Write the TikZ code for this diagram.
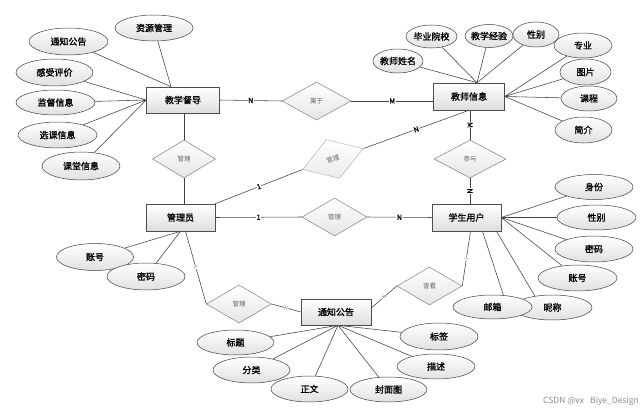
\documentclass[tikz,border=0pt]{standalone}
\usepackage{fontspec}
\setmainfont{Noto Sans CJK SC}[RawFeature={embolden=1.3}]
\newfontfamily\plainfont{Noto Sans CJK SC}
\usetikzlibrary{shapes.geometric,calc,backgrounds}
\newcommand\mbx[1]{\makebox[0pt]{#1}}
\begin{document}
\begin{tikzpicture}[x=1pt,y=-1pt,
  ent/.style={draw=black!70, line width=0.6pt, top color=white, bottom color=black!13, minimum width=70pt, minimum height=26pt, inner sep=0pt, font=\fontsize{9}{10}\selectfont},
  attr/.style={ellipse, draw=black!75, line width=0.5pt, top color=white, bottom color=black!12, inner sep=0pt, minimum width=78pt, minimum height=26pt, font=\fontsize{9}{10}\selectfont},
  rel/.style={diamond, draw=black!50, line width=0.5pt, top color=white, bottom color=black!10, inner sep=0pt, minimum width=65pt, minimum height=38pt, font=\plainfont\fontsize{6.5}{7}\selectfont, text=black!60},
  link/.style={draw=black!75, line width=0.55pt},
  card/.style={fill=white, inner sep=0.5pt, font=\fontsize{7}{8}\selectfont},
  tcard/.style={fill=white, inner sep=0.2pt, font=\plainfont\fontsize{5}{6}\selectfont, text=black!55, sloped},
]
\useasboundingbox (0,0) rectangle (641,415);

% entities
\node[ent, minimum width=73pt] (dd) at (183,100) {教学督导};
\node[ent, minimum width=71pt, minimum height=27pt] (js) at (469,96.5) {教师信息};
\node[ent, minimum width=69pt, minimum height=27pt] (gl) at (180.5,217.5) {管理员};
\node[ent, minimum width=69pt, minimum height=27pt] (xs) at (466.5,217.5) {学生用户};
\node[ent, minimum width=70pt] (tz) at (336,312) {通知公告};

% relationships
\node[rel, minimum width=69pt] (sy) at (316.5,101) {属于};
\node[rel, minimum width=63pt] (m1) at (184,159) {管理};
\node[rel, minimum width=64pt, minimum height=41pt, rotate=19, draw=black!28, bottom color=black!8] (m2) at (333,159) {管理};
\node[rel, minimum width=72pt] (cy) at (470,159) {参与};
\node[rel] (m3) at (334.5,217) {管理};
\node[rel] (m4) at (239,304) {管理};
\node[rel] (ck) at (429.5,286) {查看};

% attributes of 教学督导
\node[attr] (a1) at (154,28) {\mbx{资源管理}};
\node[attr, minimum width=79pt, minimum height=27pt] (a2) at (68.5,41.5) {\mbx{通知公告}};
\node[attr, minimum width=77pt, minimum height=27pt] (a3) at (54.5,72.5) {\mbx{感受评价}};
\node[attr, minimum width=79pt, minimum height=25pt] (a4) at (55.5,102.5) {\mbx{监督信息}};
\node[attr, minimum width=79pt] (a5) at (57.5,135) {\mbx{选课信息}};
\node[attr, minimum height=28pt] (a6) at (81,166) {\mbx{课堂信息}};

% attributes of 教师信息
\node[attr, minimum width=51pt, minimum height=23pt] (b1) at (431.5,36.5) {\mbx{毕业院校}};
\node[attr, minimum width=48pt, minimum height=23pt] (b2) at (489,36) {\mbx{教学经验}};
\node[attr, minimum width=46pt, minimum height=25pt] (b3) at (536,34.5) {\mbx{性别}};
\node[attr, minimum width=50pt, minimum height=24pt] (b0) at (398,61) {\mbx{教师姓名}};
\node[attr, minimum width=58pt, minimum height=25pt] (b4) at (583,45.5) {\mbx{专业}};
\node[attr, minimum width=51pt, minimum height=26pt] (b5) at (585.5,72) {\mbx{图片}};
\node[attr, minimum width=56pt, minimum height=25pt] (b6) at (589,98.5) {\mbx{课程}};
\node[attr, minimum width=57pt, minimum height=26pt] (b7) at (583.5,130) {\mbx{简介}};

% attributes of 学生用户
\node[attr, minimum height=25pt] (c1) at (594,187) {\mbx{身份}};
\node[attr, minimum width=79pt, minimum height=25pt] (c2) at (596.5,217.5) {\mbx{性别}};
\node[attr] (c3) at (594,249) {\mbx{密码}};
\node[attr, minimum width=79pt] (c4) at (577.5,278) {\mbx{账号}};
\node[attr, minimum width=79pt, minimum height=25pt] (c6) at (552.5,307.5) {\mbx{昵称}};
\node[attr, minimum width=79pt, minimum height=24pt] (c5) at (492.5,307) {\mbx{邮箱}};

% attributes of 通知公告
\node[attr, minimum width=77pt, minimum height=25pt] (d1) at (235.5,342.5) {\mbx{标题}};
\node[attr, minimum width=77pt] (d2) at (251.5,370) {\mbx{分类}};
\node[attr, minimum width=77pt] (d3) at (309.5,389) {\mbx{正文}};
\node[attr, minimum width=77pt, minimum height=25pt] (d4) at (388.5,389.5) {\mbx{封面图}};
\node[attr, minimum height=25pt] (d5) at (436,366.5) {\mbx{描述}};
\node[attr, minimum height=27pt] (d6) at (439,336.5) {\mbx{标签}};

% attributes of 管理员
\node[attr, minimum width=77pt, minimum height=27pt] (e1) at (95,257) {\mbx{账号}};
\node[attr, minimum height=27pt] (e2) at (146,276.5) {\mbx{密码}};

% watermark
\node[anchor=east, font=\plainfont\fontsize{8.5}{10}\selectfont, text=black!45, inner sep=0pt] (wm) at (639,401) {CSDN @vx\enspace\ Biye\_Design};

% connection points
\coordinate (ddT) at ($(dd.north)+(-12,0)$);
\coordinate (jsT) at ($(js.north)+(8,0)$);
\coordinate (tzB) at ($(tz.south)+(2,0)$);
\coordinate (xsB1) at ($(xs.south)+(16,0)$);
\coordinate (xsB2) at ($(xs.south)+(30,0)$);
\coordinate (xsB3) at ($(xs.south)+(4,0)$);
\coordinate (glB) at ($(gl.south)+(5,0)$);
\coordinate (tzE) at ($(tz.east)+(0,-4)$);

\begin{pgfonlayer}{background}
\fill[white] (0,0) rectangle (641,415);
% attribute lines
\path[link] (a1) -- (ddT) (a2) -- (ddT)
  (a3) -- (dd.west) (a4) -- (dd.west) (a5) -- (dd.west) (a6) -- (dd.west);
\path[link] (b0) -- (jsT) (b1) -- (jsT) (b2) -- (jsT) (b3) -- (jsT)
  (b4) -- (js.east) (b5) -- (js.east) (b6) -- (js.east) (b7) -- (js.east);
\path[link] (c1) -- (xs.east) (c2) -- (xs.east) (c3) -- (xs.east) (c4) -- (xs.east)
  (c5.47) -- (xsB1) (c6.147) -- (xsB2);
\path[link] (d1) -- (tzB) (d2) -- (tzB) (d3) -- (tzB) (d4) -- (tzB) (d5) -- (tzB) (d6) -- (tzB);
\path[link] (e1) -- (gl.south) (e2) -- (gl.south);
% relationship lines
\path[link] (dd.east) -- node[card]{N} (sy.west);
\path[link] (sy.east) -- node[card]{M} (sy.east -| js.west);
\path[link] (m1.north |- dd.south) -- (m1.north);
\path[link] (m1.south) -- (m1.south |- gl.north);
\path[link] (gl.north east) -- node[card, sloped]{1} (m2.west);
\path[link] (m2.east) -- node[card, sloped]{N} (js.south);
\path[link] (cy.north |- js.south) -- node[card, sloped]{M} (cy.north);
\path[link] (cy.south) -- node[card, sloped]{N} (cy.south |- xs.north);
\path[link] (gl.east) -- node[card]{1} (m3.west);
\path[link] (m3.east) -- node[card]{N} (xs.west);
\path[link] (glB) -- node[tcard]{1} (m4.west);
\path[link] (m4.east) -- node[tcard]{N} (tz.west);
\path[link] (tzE) -- node[tcard]{N} (ck.west);
\path[link] (ck.east) -- node[tcard]{1} (xsB3);
\end{pgfonlayer}
\end{tikzpicture}
\end{document}
